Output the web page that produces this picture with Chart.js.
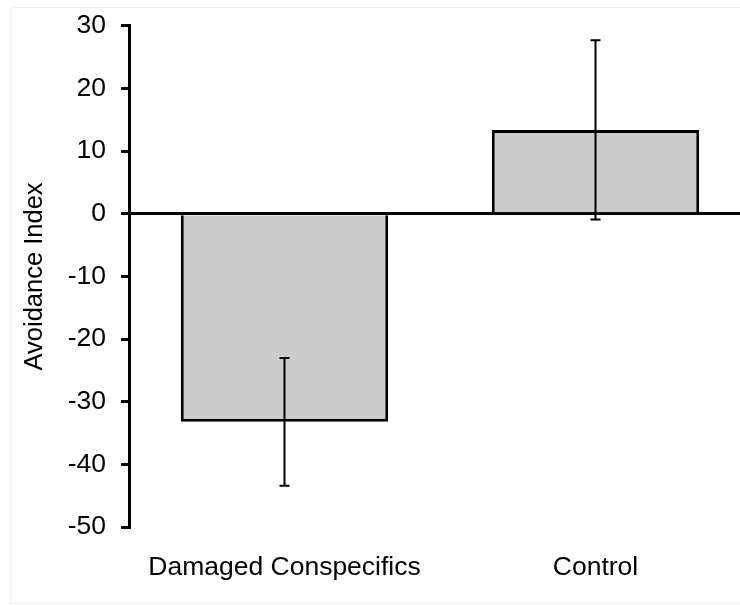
<!DOCTYPE html>
<html>
<head>
<meta charset="utf-8">
<script src="https://cdn.jsdelivr.net/npm/chart.js@4/dist/chart.umd.min.js"></script>
<style>
  html, body { margin: 0; padding: 0; background: #fff; overflow: hidden; }
  #wrap { position: relative; width: 740px; height: 605px; overflow: hidden; }
  #frame { position: absolute; left: 10px; top: 7px; width: 740px; height: 595px; border: 1px solid #efefef; }
  #box { position: absolute; left: 0; top: -5px; width: 752px; height: 610px; }
</style>
</head>
<body>
<div id="wrap">
  <div id="frame"></div>
  <div id="box"><canvas id="myChart"></canvas></div>
</div>
<script>
// data
const categories = ['Damaged Conspecifics', 'Control'];
const avoidance = [-33.2, 13.4];
const errors = [10.2, 14.3];
const yTicks = [-50, -40, -30, -20, -10, 0, 10, 20, 30];

// error bars drawn through the y scale
const errorBars = {
    id: 'errorBars',
    afterDatasetsDraw: function (chart) {
        const ctx = chart.ctx;
        const y = chart.scales.y;
        const meta = chart.getDatasetMeta(0);
        ctx.save();
        ctx.strokeStyle = '#000';
        ctx.lineWidth = 2;
        meta.data.forEach(function (bar, i) {
            const x = bar.x;
            const top = y.getPixelForValue(avoidance[i] + errors[i]);
            const bot = y.getPixelForValue(avoidance[i] - errors[i]);
            ctx.beginPath();
            ctx.moveTo(x, top); ctx.lineTo(x, bot);
            ctx.moveTo(x - 5, top); ctx.lineTo(x + 5, top);
            ctx.moveTo(x - 5, bot); ctx.lineTo(x + 5, bot);
            ctx.stroke();
        });
        ctx.restore();
    }
};

Chart.defaults.font.family = '"Liberation Sans", Arial, sans-serif';
Chart.defaults.color = '#000';

const ctx = document.getElementById('myChart').getContext('2d');
const myChart = new Chart(ctx, {
    type: 'bar',
    data: {
        labels: categories,
        datasets: [{
            label: 'Avoidance Index',
            data: avoidance,
            backgroundColor: '#cccccc',
            borderColor: '#000',
            borderWidth: 3,
            categoryPercentage: 1,
            barPercentage: 0.667
        }]
    },
    options: {
        responsive: true,
        maintainAspectRatio: false,
        animation: false,
        layout: { padding: { top: 10, left: 0, right: 1, bottom: 0 } },
        plugins: {
            legend: { display: false },
            tooltip: { enabled: false }
        },
        scales: {
            x: {
                grid: { display: false, drawTicks: false },
                border: { display: false },
                ticks: { font: { size: 26.5 }, padding: 25, maxRotation: 0 },
                afterFit: function (s) { s.height = 78; }
            },
            y: {
                min: -50,
                max: 30,
                afterBuildTicks: function (s) {
                    s.ticks = yTicks.map(function (v) { return { value: v }; });
                },
                grid: {
                    color: function (c) { return c.tick && c.tick.value === 0 ? '#000' : 'rgba(0,0,0,0)'; },
                    lineWidth: 3,
                    tickColor: '#000',
                    tickWidth: 3,
                    tickLength: 8
                },
                border: { display: true, color: '#000', width: 3 },
                ticks: { font: { size: 26.5 }, padding: 15 },
                title: {
                    display: true,
                    text: 'Avoidance Index',
                    font: { size: 25.5 },
                    padding: { top: 20, bottom: 0 }
                },
                afterFit: function (s) { s.width = 129; }
            }
        }
    },
    plugins: [errorBars]
});
</script>
</body>
</html>
